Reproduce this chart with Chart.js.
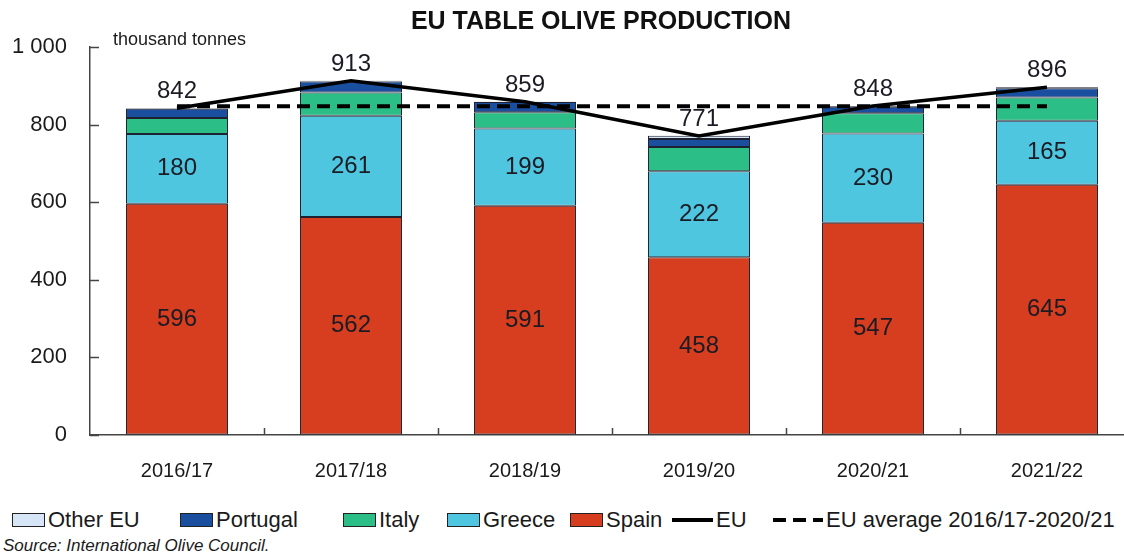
<!DOCTYPE html>
<html>
<head>
<meta charset="utf-8">
<script src="https://cdn.jsdelivr.net/npm/chart.js@4"></script>
<style>
  html, body { margin: 0; padding: 0; background: #fff; overflow: hidden; }
  body { width: 1124px; height: 556px; position: relative; font-family: "Liberation Sans", Arial, sans-serif; color: #1a1a1a; }
  #wrap { position: absolute; left: 0; top: 0; width: 1150px; height: 500px; }
  #title { position: absolute; left: 0; width: 1202px; top: 6px; text-align: center; font-weight: bold; font-size: 25px; color: #111; }
  #unit { position: absolute; left: 113px; top: 29px; font-size: 18px; }
  #legend { position: absolute; left: 12px; top: 507px; height: 26px; font-size: 22px; white-space: nowrap; }
  .item { position: absolute; top: 0; display: flex; align-items: center; height: 26px; }
  .box { width: 31px; height: 12px; border: 1px solid #222; margin-right: 3px; }
  .ln { width: 41px; height: 0; border-top: 4px solid #000; margin-right: 3px; }
  .dash { width: 50px; height: 4px; margin-right: 3px;
    background: repeating-linear-gradient(90deg, #000 0 13px, transparent 13px 20px); }
  #source { position: absolute; left: 3px; top: 536px; font-size: 17px; font-style: italic; }
</style>
</head>
<body>
<div id="wrap"><canvas id="olives" width="1150" height="500"></canvas></div>
<div id="title">EU TABLE OLIVE PRODUCTION</div>
<div id="unit">thousand tonnes</div>
<div id="legend"></div>
<div id="source">Source: International Olive Council.</div>
<script>
// marketing years
const years = ["2016/17", "2017/18", "2018/19", "2019/20", "2020/21", "2021/22"];

// production by member state, thousand tonnes
const spain = [596, 562, 591, 458, 547, 645];
const greece = [180, 261, 199, 222, 230, 165];
const italy = [41, 60, 42, 62, 52, 60];
const portugal = [24, 28, 26, 21, 17, 24];
const otherEU = [1, 2, 1, 8, 2, 2];

// EU total and the 2016/17-2020/21 average
const euTotal = [842, 913, 859, 771, 848, 896];
const euAverage = [847, 847, 847, 847, 847, 847];

const yTicks = [0, 200, 400, 600, 800, 1000];

const bar = (label, data, color) => ({
  type: "bar",
  label: label,
  data: data,
  backgroundColor: color,
  borderColor: "#1e2230",
  borderWidth: 1,
  borderSkipped: false,
  stack: "countries",
  order: 2,
  barPercentage: 0.586,
  categoryPercentage: 1,
});

const datasets = [
  bar("Spain", spain, "#D63E1F"),
  bar("Greece", greece, "#4EC6E0"),
  bar("Italy", italy, "#2BBE86"),
  bar("Portugal", portugal, "#1A4E9E"),
  bar("Other EU", otherEU, "#D6E6F6"),
  {
    type: "line",
    label: "EU",
    data: euTotal,
    borderColor: "#000",
    borderWidth: 3.5,
    pointRadius: 0,
    stack: "eu",
    order: 1,
  },
  {
    type: "line",
    label: "EU average 2016/17-2020/21",
    data: euAverage,
    borderColor: "#000",
    borderWidth: 4,
    borderDash: [13, 7],
    pointRadius: 0,
    stack: "avg",
    order: 0,
  },
];

// short tick marks pointing into the plot
const innerTicks = {
  id: "innerTicks",
  afterDatasetsDraw(chart) {
    const { ctx, scales } = chart;
    const x = scales.x, y = scales.y;
    ctx.save();
    ctx.strokeStyle = "#444";
    ctx.lineWidth = 1.5;
    ctx.beginPath();
    yTicks.forEach((v) => {
      const py = Math.round(y.getPixelForValue(v)) + 0.5;
      ctx.moveTo(x.left, py);
      ctx.lineTo(x.left + 9, py);
    });
    for (let i = 0; i < years.length - 1; i++) {
      const px = Math.round((x.getPixelForTick(i) + x.getPixelForTick(i + 1)) / 2) + 0.5;
      ctx.moveTo(px, y.bottom);
      ctx.lineTo(px, y.bottom - 7);
    }
    ctx.stroke();
    ctx.restore();
  },
};

// values written on the Spain/Greece segments and above each column
const valueLabels = {
  id: "valueLabels",
  afterDatasetsDraw(chart) {
    const { ctx } = chart;
    ctx.save();
    ctx.font = "24px 'Liberation Sans', Arial, sans-serif";
    ctx.fillStyle = "#1b1b24";
    ctx.textAlign = "center";
    ctx.textBaseline = "middle";
    [0, 1].forEach((di) => {
      chart.getDatasetMeta(di).data.forEach((el, i) => {
        ctx.fillText(datasets[di].data[i], el.x, (el.y + el.base) / 2);
      });
    });
    ctx.textBaseline = "alphabetic";
    chart.getDatasetMeta(5).data.forEach((pt, i) => {
      ctx.fillText(euTotal[i], pt.x, pt.y - 10);
    });
    ctx.restore();
  },
};

const chart = new Chart(document.getElementById("olives").getContext("2d"), {
  data: { labels: years, datasets: datasets },
  plugins: [innerTicks, valueLabels],
  options: {
    responsive: false,
    animation: false,
    layout: { padding: { left: 0, right: 16, top: 47, bottom: 0 } },
    plugins: { legend: { display: false }, tooltip: { enabled: false } },
    scales: {
      x: {
        stacked: true,
        afterFit: (s) => { s.height = 65; },
        grid: { drawOnChartArea: false, drawTicks: false },
        border: { display: true, color: "#444", width: 1.5 },
        ticks: { padding: 24, color: "#1a1a1a", font: { size: 20, family: "'Liberation Sans', Arial, sans-serif" } },
      },
      y: {
        stacked: true,
        min: 0,
        max: 1000,
        afterFit: (s) => { s.width = 90; },
        afterBuildTicks: (s) => { s.ticks = yTicks.map((v) => ({ value: v })); },
        grid: { drawOnChartArea: false, drawTicks: false },
        border: { display: true, color: "#444", width: 1.5 },
        ticks: {
          padding: 23,
          color: "#1a1a1a",
          font: { size: 22, family: "'Liberation Sans', Arial, sans-serif" },
          callback: (v) => String(v).replace(/\B(?=(\d{3})+(?!\d))/g, " "),
        },
      },
    },
  },
});

// legend row, in the order shown under the chart
const legendItems = [
  { label: "Other EU", kind: "box", color: "#D6E6F6", left: 0 },
  { label: "Portugal", kind: "box", color: "#1A4E9E", left: 168 },
  { label: "Italy", kind: "box", color: "#2BBE86", left: 331 },
  { label: "Greece", kind: "box", color: "#4EC6E0", left: 435 },
  { label: "Spain", kind: "box", color: "#D63E1F", left: 558 },
  { label: "EU", kind: "ln", left: 660 },
  { label: "EU average 2016/17-2020/21", kind: "dash", left: 761 },
];
const legend = document.getElementById("legend");
legendItems.forEach((it) => {
  const el = document.createElement("div");
  el.className = "item";
  el.style.left = it.left + "px";
  const mark = document.createElement("span");
  mark.className = it.kind;
  if (it.kind === "box") mark.style.background = it.color;
  el.appendChild(mark);
  el.appendChild(document.createTextNode(it.label));
  legend.appendChild(el);
});
</script>
</body>
</html>
